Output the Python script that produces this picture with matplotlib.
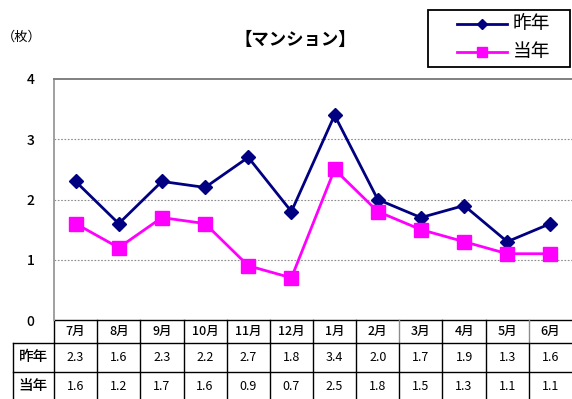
import matplotlib
matplotlib.use("Agg")
import matplotlib.pyplot as plt
from matplotlib.lines import Line2D
from matplotlib.patches import Rectangle

plt.rcParams['font.family'] = ['Noto Sans CJK JP', 'DejaVu Sans']

# --- data -------------------------------------------------------------
months = ["7月", "8月", "9月", "10月", "11月", "12月",
          "1月", "2月", "3月", "4月", "5月", "6月"]
last_year = [2.3, 1.6, 2.3, 2.2, 2.7, 1.8, 3.4, 2.0, 1.7, 1.9, 1.3, 1.6]
this_year = [1.6, 1.2, 1.7, 1.6, 0.9, 0.7, 2.5, 1.8, 1.5, 1.3, 1.1, 1.1]
series_names = ["昨年", "当年"]
yticks = [0, 1, 2, 3, 4]
title = "【マンション】"
unit = "（枚）"

# --- styles -----------------------------------------------------------
NAVY = "#000080"
MAGENTA = "#FF00FF"
style_last = dict(color=NAVY, lw=2.0, marker="D", ms=7.2, mfc=NAVY, mec=NAVY)
style_this = dict(color=MAGENTA, lw=2.0, marker="s", ms=9.5, mfc=MAGENTA, mec=MAGENTA)

W, H = 572, 399
fig = plt.figure(figsize=(W / 100, H / 100), dpi=100)

left_px, right_px, top_px, bottom_px = 54, 572, 79, 320
ax = fig.add_axes([left_px / W, (H - bottom_px) / H,
                   (right_px - left_px) / W, (bottom_px - top_px) / H])

x = list(range(len(months)))
ax.plot(x, last_year, **style_last, zorder=3)
ax.plot(x, this_year, **style_this, zorder=3)

ax.set_xlim(-0.5, len(months) - 0.5)
ax.set_ylim(0, 4)
ax.set_yticks(yticks)
ax.set_yticklabels([str(v) for v in yticks], fontsize=10, fontweight="medium")
ax.tick_params(axis="y", length=0, pad=14)
ax.set_xticks([])
for v in yticks[1:-1]:
    ax.axhline(v, color="#8c8c8c", lw=0.8, ls=(0, (1.5, 1.5)), zorder=1)

ax.spines["right"].set_visible(False)
ax.spines["bottom"].set_visible(False)
ax.spines["top"].set_color("#808080")
ax.spines["top"].set_linewidth(1.4)
ax.spines["left"].set_color("#a0a0a0")
ax.spines["left"].set_linewidth(1.4)

# --- data table under the axis ----------------------------------------
tr = ax.get_xaxis_transform()
ax_h = bottom_px - top_px
def fy(py):
    return (bottom_px - py) / ax_h

col_w = (right_px - left_px) / len(months)
x_head = -0.5 + (13 - left_px) / col_w
y_rows = [fy(320), fy(343), fy(372), fy(400)]
line_kw = dict(lw=1.0, transform=tr, clip_on=False)

ax.add_line(Line2D([-0.5, len(months) - 0.5], [y_rows[0]] * 2, color="black", **line_kw))
for yr in y_rows[1:3]:
    ax.add_line(Line2D([x_head, len(months) - 0.5], [yr] * 2, color="black", **line_kw))
gray_header_edges = {8, 11}
for k in range(len(months)):
    head_col = "#8c8c8c" if k in gray_header_edges else "black"
    ax.add_line(Line2D([k - 0.5] * 2, [y_rows[0], y_rows[1]], color=head_col, **line_kw))
    ax.add_line(Line2D([k - 0.5] * 2, [y_rows[1], y_rows[3]], color="black", **line_kw))
ax.add_line(Line2D([x_head] * 2, [y_rows[1], y_rows[3]], color="black", **line_kw))

row_mid = [(y_rows[i] + y_rows[i + 1]) / 2 for i in range(3)]
x_head_mid = (x_head - 0.5) / 2
for i, m in enumerate(months):
    ax.text(i, row_mid[0], m, transform=tr, ha="center", va="center",
            fontsize=9, fontweight="medium", clip_on=False)
for r, (name, vals) in enumerate(zip(series_names, [last_year, this_year]), start=1):
    ax.text(x_head_mid, row_mid[r], name, transform=tr, ha="center",
            va="center", fontsize=10.5, fontweight="medium", clip_on=False)
    for i, v in enumerate(vals):
        ax.text(i, row_mid[r], f"{v:.1f}", transform=tr, ha="center",
                va="center", fontsize=9, clip_on=False)

# --- title and unit ---------------------------------------------------
fig.text(295 / W, 1 - 40 / H, title, ha="center", va="center",
         fontsize=12.5, fontweight="bold")
fig.text(22 / W, 1 - 37 / H, unit, ha="center", va="center", fontsize=9.5)

# --- legend box -------------------------------------------------------
fig.add_artist(Rectangle((428 / W, 1 - 67 / H), 142 / W, 57 / H,
                         transform=fig.transFigure, fill=False,
                         ec="black", lw=1.3))
leg_rows = [(24, style_last, series_names[0]), (52, style_this, series_names[1])]
for py, st, name in leg_rows:
    yy = 1 - py / H
    fig.add_artist(Line2D([457 / W, 507 / W], [yy, yy], transform=fig.transFigure,
                          color=st["color"], lw=st["lw"]))
    fig.add_artist(Line2D([482 / W], [yy], transform=fig.transFigure,
                          marker=st["marker"], ms=st["ms"] * 0.75,
                          mfc=st["mfc"], mec=st["mec"], ls="none"))
    fig.text(513 / W, yy, name, ha="left", va="center", fontsize=13.5)

fig.savefig("out.png", dpi=100)
